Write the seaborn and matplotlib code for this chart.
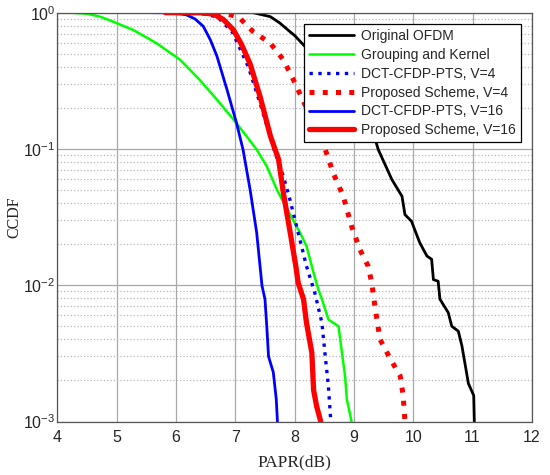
import numpy as np
import pandas as pd
import matplotlib
matplotlib.use('Agg')
import matplotlib.pyplot as plt
import seaborn as sns

# CCDF curves (x = PAPR in dB)
orig_x = [7.0, 7.3, 7.59, 7.75, 7.92, 8.0, 8.2, 8.5, 8.8, 9.1, 9.36, 9.41, 9.64, 9.81, 9.86,
          9.97, 10.11, 10.23, 10.31, 10.34, 10.42, 10.45, 10.59, 10.65, 10.76, 10.82, 10.87,
          10.93, 11.02, 11.03]
orig_y = [1.0, 1.0, 0.935, 0.84, 0.726, 0.68, 0.55, 0.39, 0.27, 0.178, 0.117, 0.099, 0.0596,
          0.045, 0.033, 0.0295, 0.0205, 0.0164, 0.0155, 0.011, 0.0107, 0.0079, 0.0063, 0.005,
          0.0046, 0.0036, 0.0027, 0.0019, 0.00155, 0.001]

gk_x = [4.0, 4.25, 4.49, 4.72, 4.94, 5.28, 5.67, 6.07, 6.40, 6.69, 6.97, 7.19, 7.36, 7.53,
        7.70, 7.92, 8.06, 8.12, 8.20, 8.32, 8.40, 8.46, 8.57, 8.74, 8.79, 8.85, 8.88, 8.96]
gk_y = [1.0, 0.998, 0.984, 0.935, 0.859, 0.746, 0.597, 0.451, 0.321, 0.230, 0.164, 0.124,
        0.0989, 0.0746, 0.0504, 0.0331, 0.0257, 0.0229, 0.0194, 0.0123, 0.0093, 0.0079,
        0.0056, 0.0050, 0.0034, 0.00216, 0.00146, 0.001]

dct4_x = [5.85, 6.4, 6.7, 6.95, 7.22, 7.45, 7.65, 7.81, 7.92, 8.06, 8.20, 8.34, 8.46, 8.51,
          8.57, 8.61]
dct4_y = [1.0, 0.993, 0.93, 0.72, 0.40, 0.195, 0.1, 0.063, 0.0426, 0.0243, 0.0138, 0.0088,
          0.0053, 0.0032, 0.0018, 0.001]

prop4_x = [6.0, 6.6, 6.8, 7.05, 7.30, 7.59, 7.81, 7.98, 8.2, 8.46, 8.65, 8.82, 8.96, 9.10,
           9.24, 9.30, 9.36, 9.44, 9.61, 9.78, 9.83, 9.86]
prop4_y = [1.0, 0.998, 0.99, 0.935, 0.726, 0.597, 0.451, 0.321, 0.20, 0.117, 0.0667, 0.045,
           0.0271, 0.0183, 0.0138, 0.0104, 0.0067, 0.0040, 0.0029, 0.00216, 0.00155, 0.001]

dct16_x = [5.61, 5.9, 6.05, 6.18, 6.32, 6.46, 6.58, 6.69, 6.86, 7.02, 7.13, 7.25, 7.36, 7.45,
           7.50, 7.53, 7.56, 7.64, 7.69, 7.71]
dct16_y = [1.0, 0.998, 0.985, 0.962, 0.9, 0.794, 0.63, 0.479, 0.272, 0.155, 0.0989, 0.050,
           0.0243, 0.0099, 0.0079, 0.0050, 0.0030, 0.0023, 0.00146, 0.001]

prop16_x = [5.82, 6.4, 6.63, 6.8, 6.97, 7.1, 7.25, 7.42, 7.59, 7.73, 7.81, 7.92, 8.02, 8.06,
            8.15, 8.20, 8.29, 8.32, 8.37, 8.44]
prop16_y = [1.0, 0.999, 0.977, 0.89, 0.746, 0.59, 0.42, 0.24, 0.125, 0.0836, 0.0476, 0.0251,
            0.0138, 0.0104, 0.0079, 0.0053, 0.0032, 0.0017, 0.0013, 0.001]

sns.set_style('white')
plt.rcParams['font.family'] = ['Liberation Sans', 'DejaVu Sans']
plt.rcParams['mathtext.fontset'] = 'custom'
plt.rcParams['mathtext.rm'] = 'Liberation Sans'
plt.rcParams['mathtext.it'] = 'Liberation Sans:italic'

fig = plt.figure(figsize=(5.5, 4.75), dpi=100)
ax = fig.add_axes([0.1044, 0.1126, 0.8626, 0.8607])

series = [
    ('Original OFDM', orig_x, orig_y, 'black', '-', 2.0),
    ('Grouping and Kernel', gk_x, gk_y, '#00ff00', '-', 1.8),
    ('DCT-CFDP-PTS, V=4', dct4_x, dct4_y, '#0000ff', ':', 2.4),
    ('Proposed Scheme, V=4', prop4_x, prop4_y, '#ff0000', ':', 3.6),
    ('DCT-CFDP-PTS, V=16', dct16_x, dct16_y, '#0000ff', '-', 2.0),
    ('Proposed Scheme, V=16', prop16_x, prop16_y, '#ff0000', '-', 3.8),
]

for name, xs, ys, col, ls, lw in series:
    df = pd.DataFrame({'PAPR': xs, 'CCDF': ys})
    sns.lineplot(data=df, x='PAPR', y='CCDF', ax=ax, color=col, linestyle=ls,
                 linewidth=lw, label=name, sort=False, estimator=None)

ax.set_yscale('log')
ax.set_xlim(4, 12)
ax.set_ylim(1e-3, 1)
ax.set_xticks(range(4, 13))

ax.grid(True, which='major', color='#a8a8a8', linestyle='-', linewidth=0.9)
ax.grid(True, which='minor', axis='y', color='#b8b8b8', linestyle=':', linewidth=0.9)
ax.set_axisbelow(True)

ax.tick_params(axis='both', which='major', direction='in', labelsize=11.5, length=4,
               color='#444444')
ax.tick_params(axis='x', which='major', pad=6)
ax.tick_params(axis='y', which='major', pad=1.5)
ax.tick_params(axis='y', which='minor', direction='in', length=2, color='#444444')
for sp in ax.spines.values():
    sp.set_color('#555555')
    sp.set_linewidth(0.9)

ax.set_xlabel('PAPR(dB)', family='Liberation Serif', fontsize=12.5, labelpad=7)
ax.set_ylabel('CCDF', family='Liberation Serif', fontsize=11.5)
ax.yaxis.set_label_coords(-0.074, 0.5)

leg = ax.legend(loc='upper right', bbox_to_anchor=(0.977, 0.972), fontsize=10,
                frameon=True, fancybox=False, edgecolor='black', framealpha=1,
                handlelength=3.3, borderpad=0.35, labelspacing=0.35, handletextpad=0.5,
                borderaxespad=0)
leg.get_frame().set_linewidth(0.9)

fig.savefig('out.png', dpi=100)
